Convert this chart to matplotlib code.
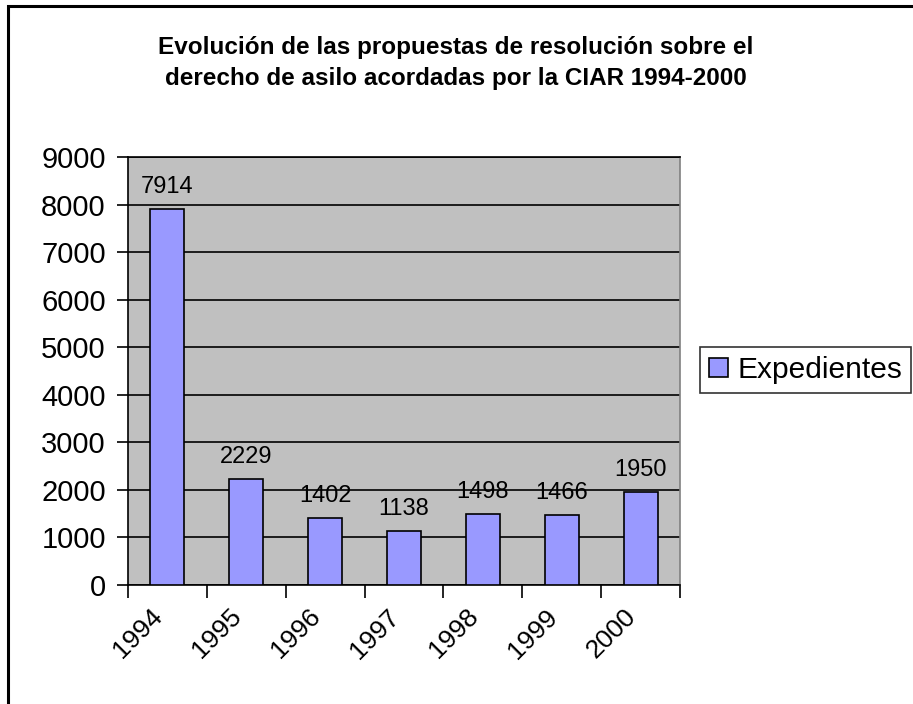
import matplotlib.pyplot as plt
from matplotlib.patches import Rectangle
import numpy as np

years = ['1994', '1995', '1996', '1997', '1998', '1999', '2000']
expedientes = [7914, 2229, 1402, 1138, 1498, 1466, 1950]
yticks = [0, 1000, 2000, 3000, 4000, 5000, 6000, 7000, 8000, 9000]

plt.rcParams['font.family'] = ['Liberation Sans', 'DejaVu Sans']

W, H = 913, 704
fig = plt.figure(figsize=(W / 100, H / 100), dpi=100)

# plot area in pixel coords: x 128-680, y 157-585
ax = fig.add_axes([128 / W, 1 - 585 / H, (680 - 128) / W, (585 - 157) / H])
ax.set_facecolor('#C0C0C0')

x = np.arange(len(years))
bars = ax.bar(x, expedientes, width=0.43, color='#9999FF', edgecolor='black',
              linewidth=1.2, zorder=3, label='Expedientes')
for xi, v in zip(x, expedientes):
    ax.text(xi, v + 230, str(v), ha='center', va='bottom', fontsize=17, zorder=4)

ax.set_xlim(-0.5, len(years) - 0.5)
ax.set_ylim(0, 9000)
ax.set_yticks(yticks)
ax.set_yticklabels([str(t) for t in yticks], fontsize=21)
ax.yaxis.grid(True, color='black', linewidth=1.2, zorder=1)
ax.set_axisbelow(True)

# ticks at category boundaries, labels at centres
ax.set_xticks(np.arange(len(years) + 1) - 0.5)
ax.set_xticklabels([])
ax.set_xticks(x, minor=True)
ax.set_xticklabels(years, minor=True, rotation=45, ha='right', va='top',
                   fontsize=19)
ax.tick_params(axis='x', which='minor', length=0, pad=14)
ax.tick_params(axis='x', which='major', length=9, width=1.2, direction='out')
ax.tick_params(axis='y', length=8, width=1.2, direction='out', pad=8)

ax.spines['right'].set_color('#808080')
for s in ['top', 'left', 'bottom']:
    ax.spines[s].set_color('black')
for s in ax.spines.values():
    s.set_linewidth(1.2)

fig.text(456 / W, 1 - 63 / H,
         'Evolución de las propuestas de resolución sobre el\n'
         'derecho de asilo acordadas por la CIAR 1994-2000',
         ha='center', va='center', fontsize=17.5, fontweight='bold', linespacing=1.4)

leg = fig.legend(handles=[bars], labels=['Expedientes'], loc='upper left',
                 bbox_to_anchor=(700 / W, 1 - 347 / H), fontsize=21.5,
                 frameon=True, fancybox=False, handlelength=0.65, handleheight=0.65,
                 handletextpad=0.3, borderpad=0.3, borderaxespad=0)
leg.get_frame().set_edgecolor('black')
leg.get_frame().set_linewidth(1.2)

# outer chart border (extends past right and bottom edge)
fig.add_artist(Rectangle((7.5 / W, -0.1), 1.2, 1.1 - 6.5 / H, transform=fig.transFigure,
                         fill=False, edgecolor='black', linewidth=2.2, clip_on=False))

fig.savefig('out.png', dpi=100, facecolor='white')
